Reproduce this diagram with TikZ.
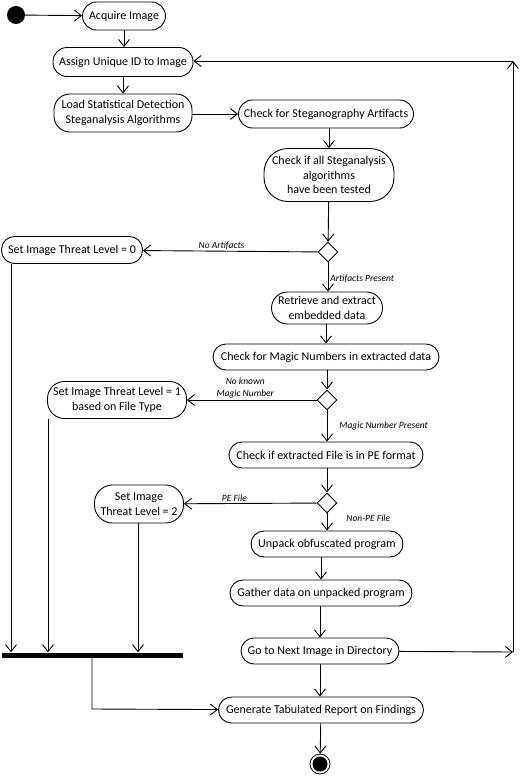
\documentclass[tikz,border=0pt]{standalone}
\usepackage{fontspec}
\setmainfont{Carlito}
\usetikzlibrary{arrows.meta,shapes.geometric,positioning}
\begin{document}
\begin{tikzpicture}[x=1pt,y=-1pt,
  act/.style={draw,line width=0.9pt,rounded corners=12pt,align=center,inner sep=1pt,font=\fontsize{12}{14.5}\selectfont},
  dec/.style={draw,line width=0.9pt,diamond,minimum width=20pt,minimum height=20pt,inner sep=0pt},
  lbl/.style={font=\itshape\fontsize{9.5}{12}\selectfont,inner sep=1pt},
  arr/.style={line width=0.9pt,-{Straight Barb[length=7pt,width=11pt,line width=0.9pt]}},
  ln/.style={line width=0.9pt}]
\useasboundingbox (0,0) rectangle (520,777);
\fill[white] (0,0) rectangle (520,777);
% nodes
\node[circle,fill=black,minimum size=18pt,inner sep=0pt] (start) at (16,15) {};
\node[act,minimum width=83pt,minimum height=28pt,rounded corners=14pt] (acq) at (124,16) {Acquire Image};
\node[act,minimum width=140pt,minimum height=29pt,rounded corners=14pt] (assign) at (123,62) {Assign Unique ID to Image};
\node[act,minimum width=138pt,minimum height=38pt,rounded corners=16pt] (load) at (123,113) {Load Statistical Detection\\Steganalysis Algorithms};
\node[act,minimum width=175pt,minimum height=28pt,rounded corners=14pt] (chk) at (326,114) {Check for Steganography Artifacts};
\node[act,minimum width=130pt,minimum height=53pt,rounded corners=24pt] (all) at (329,175) {Check if all Steganalysis\\algorithms\\have been tested};
\node[dec] (d1) at (328,252) {};
\node[act,minimum width=141pt,minimum height=27pt,rounded corners=13pt] (t0) at (72,250) {Set Image Threat Level = 0};
\node[act,minimum width=111pt,minimum height=32pt,rounded corners=16pt] (ret) at (327,308) {Retrieve and extract\\embedded data};
\node[act,minimum width=226pt,minimum height=26pt,rounded corners=13pt] (magic) at (326,357) {Check for Magic Numbers in extracted data};
\node[dec] (d2) at (327,400) {};
\node[act,minimum width=139pt,minimum height=37pt,rounded corners=17pt] (t1) at (117,400) {Set Image Threat Level = 1\\based on File Type};
\node[act,minimum width=194pt,minimum height=26pt,rounded corners=13pt] (pe) at (326,455) {Check if extracted File is in PE format};
\node[dec] (d3) at (327,503) {};
\node[act,minimum width=89pt,minimum height=38pt,rounded corners=18pt] (t2) at (139,504) {Set Image\\Threat Level = 2};
\node[act,minimum width=152pt,minimum height=26pt,rounded corners=13pt] (unp) at (327,544) {Unpack obfuscated program};
\node[act,minimum width=182pt,minimum height=26pt,rounded corners=13pt] (gat) at (321,593) {Gather data on unpacked program};
\node[act,minimum width=158pt,minimum height=26pt,rounded corners=13pt] (next) at (320,651) {Go to Next Image in Directory};
\node[act,minimum width=205pt,minimum height=26pt,rounded corners=13pt] (gen) at (321,710) {Generate Tabulated Report on Findings};
\node[circle,draw,line width=0.8pt,minimum size=20pt,inner sep=0pt] (endo) at (320,764) {};
\node[circle,fill=black,minimum size=15pt,inner sep=0pt] at (endo) {};
\node[fill=black,minimum width=181pt,minimum height=5pt,inner sep=0pt] (bar) at (92.5,655) {};
% loop coordinates
\coordinate (c1) at (513,652);
\coordinate (c2) at (513,61);
\coordinate (c3) at (92,709);
% edges
\draw[arr] (start) -- (acq);
\draw[arr] (acq) -- (acq|-assign.north);
\draw[arr] (assign) -- (assign|-load.north);
\draw[arr] (load.east|-chk) -- (chk);
\draw[arr] (chk.south-|all) -- (all);
\draw[arr] (all) -- (d1);
\draw[arr] (d1) -- node[lbl,above,pos=0.55]{No Artifacts} (t0);
\draw[arr] (d1) -- node[lbl,right,pos=0.57,xshift=1pt]{Artifacts Present} (d1|-ret.north);
\draw[arr] (ret.south-|magic) -- (magic);
\draw[arr] (magic.south-|d2) -- (d2);
\draw[arr] (d2) -- node[lbl,above,align=center,pos=0.55]{No known\\Magic Number} (t1);
\draw[arr] (d2) -- node[lbl,right,pos=0.5,xshift=11pt]{Magic Number Present} (d2|-pe.north);
\draw[arr] (pe.south-|d3) -- (d3);
\draw[arr] (d3) -- node[lbl,above,pos=0.62]{PE File} (t2);
\draw[arr] (d3) -- node[lbl,right,pos=0.3,xshift=18pt]{Non-PE File} (d3|-unp.north);
\draw[arr] (unp.south-|gat) -- (gat);
\draw[arr] (gat.south-|next) -- (next);
\draw[arr] (next) -- (next|-gen.north);
\draw[arr] (gen) -- (endo);
\draw[arr] (next) -- (c1);
\draw[arr] (c1) -- (c2);
\draw[arr] (c2) -- (assign.east|-c2);
\draw[arr] (t0.south-|11,0) -- (bar.north-|11,0);
\draw[arr] (t1.south-|48,0) -- (bar.north-|48,0);
\draw[arr] (t2.south-|138,0) -- (bar.north-|138,0);
\draw[arr] (bar.south-|c3) -- (c3) -- (gen);
\end{tikzpicture}
\end{document}
